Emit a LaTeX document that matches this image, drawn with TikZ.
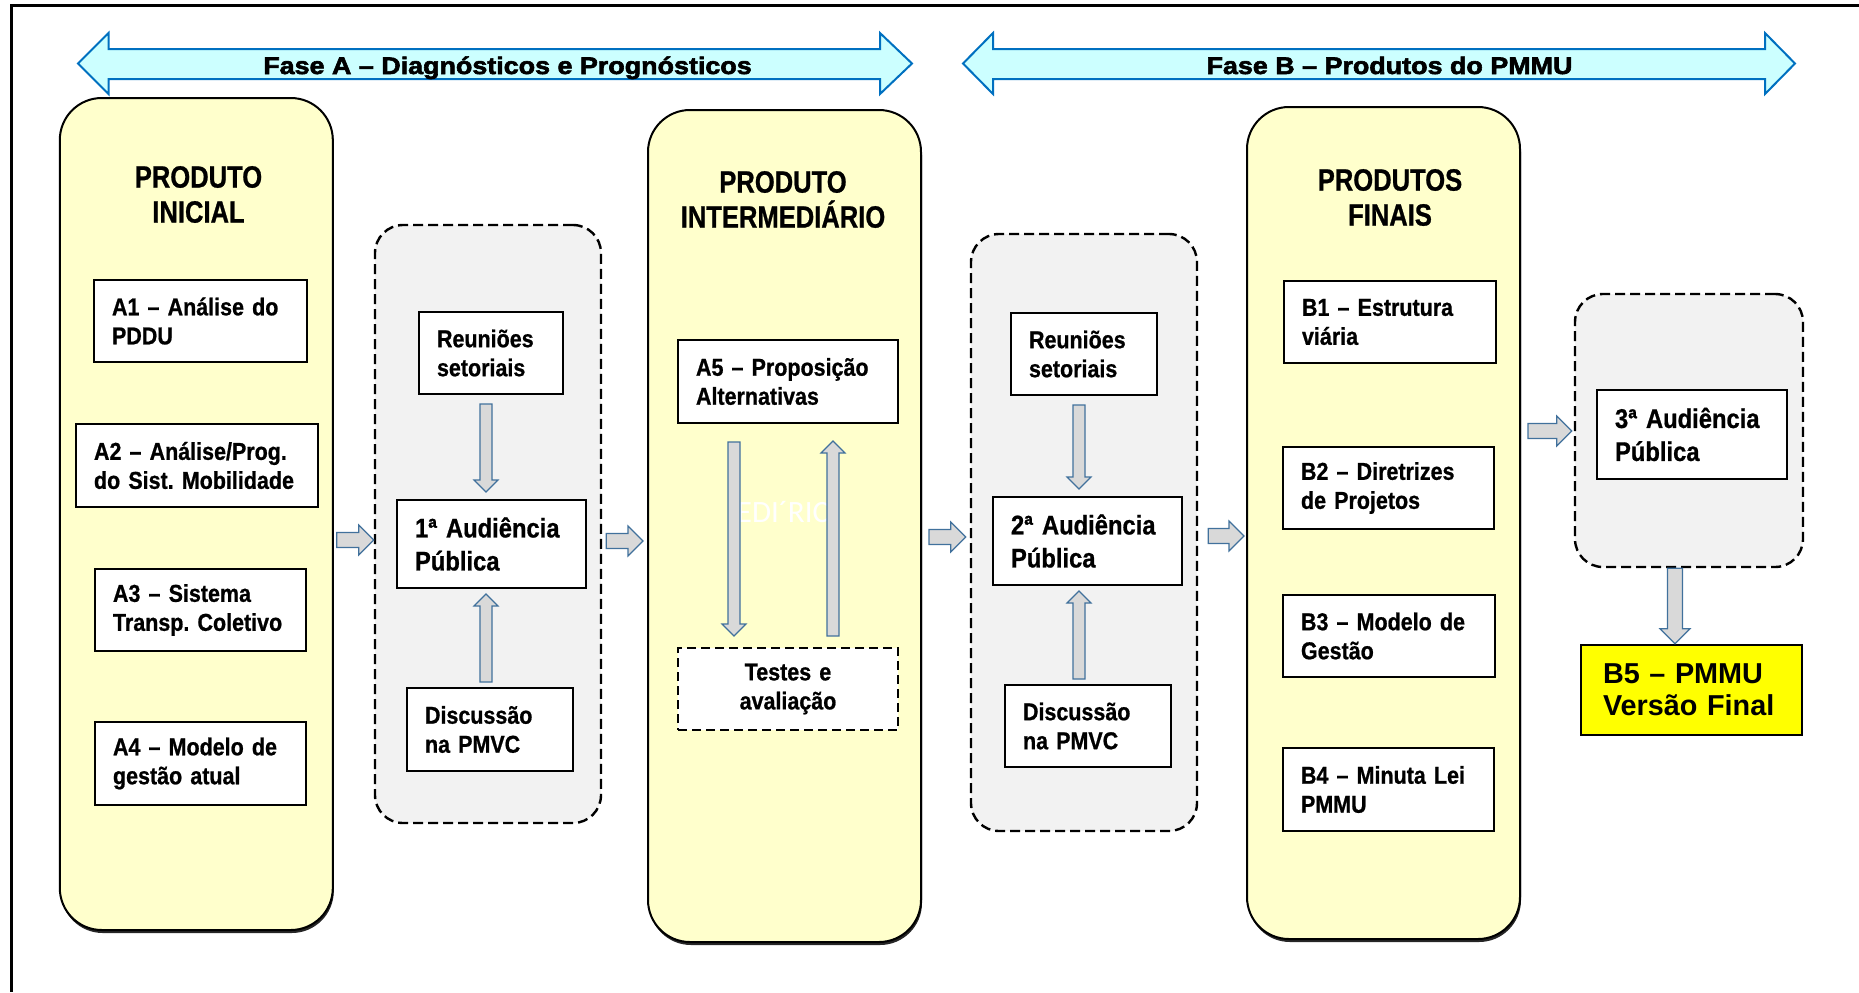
\documentclass[tikz,border=0pt]{standalone}
\usepackage{fontspec}
\setmainfont{Liberation Sans}
\newfontfamily\narrowfont[FakeStretch=0.88,BoldFeatures={FakeBold=0.8}]{Liberation Sans}
\newfontfamily\titlefont[FakeStretch=0.83,BoldFeatures={FakeBold=0.8}]{Liberation Sans}
\newfontfamily\phasefont[FakeStretch=1.12,BoldFeatures={FakeBold=2.5}]{Liberation Sans}
\newfontfamily\markfont{Carlito}
\usepackage{tikz}
\usetikzlibrary{arrows.meta,positioning,calc,shadows}
\definecolor{colfill}   {HTML}{FFFFCC}
\definecolor{grpfill}   {HTML}{F2F2F2}
\definecolor{phasefill} {HTML}{CCFFFF}
\definecolor{phaseline} {HTML}{0070C0}
\definecolor{arrowfill} {HTML}{D9D9D9}
\definecolor{arrowline} {HTML}{41719C}
\definecolor{b5fill}    {HTML}{FFFF00}
\frenchspacing
% block arrow from #2 to #3
\newcommand{\blockarrow}[3][blk big]{%
  \draw[blk,#1] let \p1=(#2), \p2=(#3),
      \n1={atan2(\y2-\y1,\x2-\x1)}, \n2={veclen(\x2-\x1,\y2-\y1)} in
    [shift={(\p1)}, rotate=\n1]
    (0pt,-\bsw) -- (\n2-\bhl,-\bsw) -- (\n2-\bhl,-\bhw) -- (\n2+0pt,0pt)
    -- (\n2-\bhl,\bhw) -- (\n2-\bhl,\bsw) -- (0pt,\bsw) -- cycle;}

\begin{document}
\begin{tikzpicture}[x=0.5pt, y=-0.5pt,
  colbox/.style={draw, line width=1pt, fill=colfill, rounded corners=21pt,
    minimum width=136.5pt, minimum height=416pt,
    drop shadow={shadow xshift=0.5pt, shadow yshift=-1.5pt, fill=black, opacity=0.85}},
  grpbox/.style={draw, line width=1.2pt, dash pattern=on 5pt off 2.5pt,
    fill=grpfill, rounded corners=14pt},
  tbox/.style={draw, line width=1pt, fill=white, align=left, inner xsep=9pt, inner ysep=1pt,
    font=\narrowfont\bfseries\fontsize{12.2}{14.5}\selectfont},
  audbox/.style={tbox, font=\narrowfont\bfseries\fontsize{13.5}{16.5}\selectfont},
  titletext/.style={align=center, inner sep=0pt,
    font=\titlefont\bfseries\fontsize{15.4}{17.5}\selectfont},
  phasetext/.style={anchor=base, inner sep=0pt,
    font=\phasefont\bfseries\fontsize{12}{14}\selectfont},
  phasearrow/.style={draw=phaseline, line width=1pt, fill=phasefill},
  blk/.style={draw=arrowline, fill=arrowfill, line width=0.6pt},
  blk big/.code={\def\bsw{3.75pt}\def\bhw{7.5pt}\def\bhl{7.5pt}},
  blk small/.code={\def\bsw{3pt}\def\bhw{6pt}\def\bhl{6pt}}]
  \useasboundingbox (0,0) rectangle (1859,992);
  \draw[line width=1.5pt] (1859,5) -- (11,5) -- (11,992);

  % phase arrows
  \draw[phasearrow] (78,63.5) -- (108.5,33) -- (108.5,49) -- (880,49) -- (880,33) -- (912,63.5)
    -- (880,94) -- (880,79) -- (108.5,79) -- (108.5,94) -- cycle;
  \draw[phasearrow] (963,63.5) -- (993,33) -- (993,49) -- (1765,49) -- (1765,33) -- (1795,63.5)
    -- (1765,94) -- (1765,79) -- (993,79) -- (993,94) -- cycle;
  \node[phasetext] (faseA) at (507.5,74) {Fase A – Diagnósticos e Prognósticos};
  \node[phasetext] (faseB) at (1389.5,74) {Fase B – Produtos do PMMU};

  % columns and groups
  \node[colbox] (col1) at (196.3,514) {};
  \node[colbox] (col2) at (784.5,526) {};
  \node[colbox] (col3) at (1383.5,523) {};
  \node[grpbox, minimum width=113pt, minimum height=299pt] (grp1) at (488,524) {};
  \node[grpbox, minimum width=113pt, minimum height=298.5pt] (grp2) at (1084,532.5) {};
  \node[grpbox, minimum width=114pt, minimum height=136.5pt] (grp3) at (1689,430.5) {};

  \node[titletext] (t1) at (198.5,194.5) {PRODUTO\\INICIAL};
  \node[titletext] (t2) at (783,199.5) {PRODUTO\\INTERMEDIÁRIO};
  \node[titletext] (t3) at (1390,197.5) {PRODUTOS\\FINAIS};

  % phase A boxes
  \node[tbox, text width=88.5pt, minimum height=41pt] (a1) at (200.5,321) {A1 – Análise do\\PDDU};
  \node[tbox, text width=103pt, minimum height=41.5pt] (a2) at (197,465.5) {A2 – Análise/Prog.\\do Sist. Mobilidade};
  \node[tbox, text width=87.5pt, minimum height=41pt] (a3) at (200.5,610) {A3 – Sistema\\Transp. Coletivo};
  \node[tbox, text width=87.5pt, minimum height=41.5pt] (a4) at (200.5,763.5) {A4 – Modelo de\\gestão atual};
  \node[tbox, text width=54pt, minimum height=41pt] (reu1) at (491,353) {Reuniões\\setoriais};
  \node[audbox, text width=76.5pt, minimum height=44pt] (aud1) at (491.5,544) {1ª Audiência\\Pública};
  \node[tbox, text width=65pt, minimum height=41.5pt] (dis1) at (490,729.5) {Discussão\\na PMVC};
  \node[tbox, text width=92pt, minimum height=41.5pt] (a5) at (788,381.5) {A5 – Proposição\\Alternativas};
  \node[tbox, dash pattern=on 4.5pt off 2.5pt, align=center, text width=92pt,
    minimum height=41pt] (tst) at (788,689) {Testes e\\avaliação};
  \node[font=\markfont\fontsize{15.5}{18}\selectfont, text=white, inner sep=0pt] (mark) at (783,512) {EDI´RIC};

  % phase B boxes
  \node[tbox, text width=55pt, minimum height=41pt] (reu2) at (1084,354) {Reuniões\\setoriais};
  \node[audbox, text width=76.5pt, minimum height=44pt] (aud2) at (1087.5,541) {2ª Audiência\\Pública};
  \node[tbox, text width=65pt, minimum height=41pt] (dis2) at (1088,726) {Discussão\\na PMVC};
  \node[tbox, text width=88pt, minimum height=41pt] (b1) at (1390,322) {B1 – Estrutura\\viária};
  \node[tbox, text width=87.5pt, minimum height=41pt] (b2) at (1388.5,488) {B2 – Diretrizes\\de Projetos};
  \node[tbox, text width=88pt, minimum height=41pt] (b3) at (1389,636) {B3 – Modelo de\\Gestão};
  \node[tbox, text width=87.5pt, minimum height=41.5pt] (b4) at (1388.5,789.5) {B4 – Minuta Lei\\PMMU};
  \node[audbox, text width=77pt, minimum height=44.5pt] (aud3) at (1692,434.5) {3ª Audiência\\Pública};
  \node[tbox, fill=b5fill, line width=1.3pt, inner xsep=11pt, text width=88.5pt, minimum height=45pt,
    font=\bfseries\fontsize{14.4}{16}\selectfont] (b5) at (1691.5,690) {B5 – PMMU\\Versão Final};

  % block arrows
  \blockarrow{$(col1.east |- aud1)+(3,-4)$}{$(grp1.west |- aud1)+(0,-4)$}
  \blockarrow{$(grp1.east |- aud1)+(4,-3)$}{$(col2.west |- aud1)+(-4,-3)$}
  \blockarrow{$(col2.east |- aud2)+(7,-4)$}{$(grp2.west |- aud2)+(-4,-4)$}
  \blockarrow{$(grp2.east |- aud2)+(10,-5)$}{$(col3.west |- aud2)+(-2,-5)$}
  \blockarrow{$(col3.east |- aud3)+(7,-3.5)$}{$(grp3.west |- aud3)+(-2,-3.5)$}
  \coordinate (d3) at ($(grp3.south)+(-14,0)$);
  \blockarrow{d3}{d3 |- b5.north}
  \blockarrow[blk small]{$(reu1.south)+(-5,9)$}{$(aud1.north)+(-5.5,-7)$}
  \blockarrow[blk small]{$(dis1.north)+(-4,-5)$}{$(aud1.south)+(-5.5,5)$}
  \blockarrow[blk small]{$(reu2.south)+(-5,9)$}{$(aud2.north)+(-8.5,-7)$}
  \blockarrow[blk small]{$(dis2.north)+(-9,-5)$}{$(aud2.south)+(-8.5,5)$}
  \blockarrow[blk small]{$(a5.south)+(-54,18)$}{$(tst.north)+(-54,-11)$}
  \blockarrow[blk small]{$(tst.north)+(45,-11)$}{$(a5.south)+(45,17)$}
\end{tikzpicture}
\end{document}
